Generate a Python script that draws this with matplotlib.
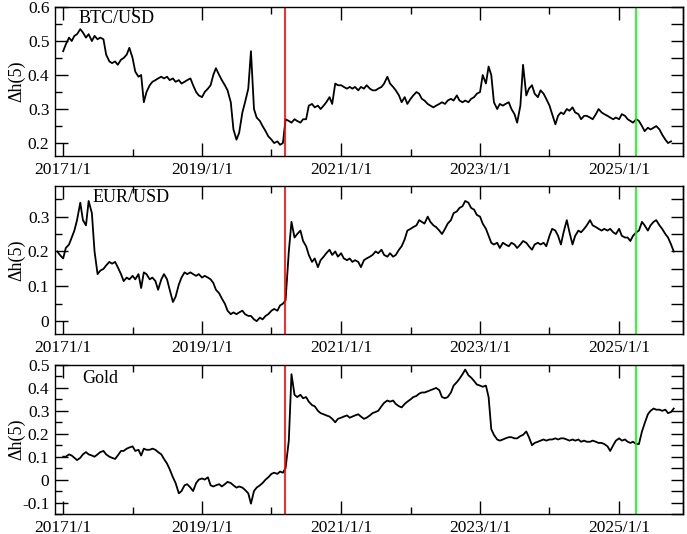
import matplotlib
matplotlib.use("Agg")
import matplotlib.pyplot as plt
from matplotlib.ticker import MultipleLocator, NullFormatter, FuncFormatter
import numpy as np
import pandas as pd

plt.rcParams['font.family'] = ['Liberation Serif', 'DejaVu Serif']
plt.rcParams['axes.unicode_minus'] = False

# semi-monthly readings (1st and 16th of each month)
btc_start = "2017-01-01"
btc = [
    0.47, 0.49, 0.51, 0.50, 0.515, 0.52, 0.535, 0.525, 0.51, 0.52, 0.50, 0.515,
    0.505, 0.51, 0.505, 0.46, 0.44, 0.435, 0.44, 0.43, 0.445, 0.45, 0.46, 0.48,
    0.45, 0.41, 0.395, 0.40, 0.32, 0.35, 0.37, 0.38, 0.385, 0.39, 0.395, 0.39,
    0.395, 0.385, 0.39, 0.38, 0.385, 0.375, 0.38, 0.385, 0.39, 0.37, 0.35, 0.34,
    0.335, 0.35, 0.36, 0.37, 0.40, 0.42, 0.40, 0.385, 0.37, 0.355, 0.32, 0.24,
    0.21, 0.23, 0.29, 0.32, 0.36, 0.47, 0.30, 0.275, 0.265, 0.25, 0.235, 0.22,
    0.21, 0.20, 0.205, 0.195, 0.20, 0.27, 0.265, 0.26, 0.27, 0.265, 0.26, 0.27,
    0.27, 0.31, 0.315, 0.305, 0.31, 0.30, 0.31, 0.32, 0.335, 0.315, 0.375, 0.37,
    0.37, 0.365, 0.36, 0.365, 0.36, 0.365, 0.355, 0.365, 0.36, 0.37, 0.36, 0.355,
    0.355, 0.36, 0.365, 0.375, 0.395, 0.375, 0.365, 0.355, 0.34, 0.32, 0.335, 0.315,
    0.33, 0.34, 0.35, 0.345, 0.33, 0.325, 0.315, 0.31, 0.305, 0.31, 0.315, 0.32,
    0.315, 0.325, 0.33, 0.325, 0.34, 0.325, 0.32, 0.325, 0.32, 0.33, 0.335, 0.345,
    0.35, 0.40, 0.375, 0.425, 0.40, 0.32, 0.30, 0.315, 0.31, 0.315, 0.32, 0.30,
    0.285, 0.26, 0.31, 0.43, 0.34, 0.36, 0.37, 0.345, 0.335, 0.355, 0.345, 0.33,
    0.31, 0.285, 0.255, 0.28, 0.29, 0.285, 0.30, 0.295, 0.305, 0.29, 0.285, 0.27,
    0.28, 0.28, 0.275, 0.27, 0.285, 0.30, 0.29, 0.285, 0.28, 0.275, 0.27, 0.275,
    0.27, 0.285, 0.28, 0.27, 0.265, 0.26, 0.27, 0.265, 0.25, 0.235, 0.245, 0.24,
    0.245, 0.25, 0.24, 0.225, 0.21, 0.20, 0.205,
]

eur_start = "2016-11-16"
eur = [
    0.20, 0.19, 0.18,
    0.21, 0.22, 0.24, 0.26, 0.29, 0.34, 0.29, 0.275, 0.345, 0.31, 0.20, 0.135,
    0.145, 0.15, 0.16, 0.17, 0.165, 0.17, 0.155, 0.135, 0.115, 0.125, 0.12, 0.13,
    0.12, 0.135, 0.095, 0.14, 0.135, 0.12, 0.125, 0.115, 0.09, 0.12, 0.135, 0.12,
    0.09, 0.055, 0.07, 0.105, 0.125, 0.14, 0.135, 0.14, 0.135, 0.13, 0.135, 0.125,
    0.13, 0.125, 0.12, 0.11, 0.09, 0.08, 0.065, 0.05, 0.03, 0.02, 0.025, 0.02,
    0.025, 0.03, 0.02, 0.015, 0.015, 0.005, 0.0, 0.01, 0.005, 0.015, 0.02, 0.03,
    0.035, 0.03, 0.045, 0.05, 0.06, 0.20, 0.285, 0.24, 0.25, 0.26, 0.23, 0.215,
    0.19, 0.17, 0.18, 0.155, 0.175, 0.185, 0.195, 0.205, 0.19, 0.20, 0.185, 0.195,
    0.18, 0.175, 0.18, 0.17, 0.175, 0.17, 0.155, 0.175, 0.18, 0.185, 0.19, 0.20,
    0.195, 0.205, 0.19, 0.185, 0.195, 0.185, 0.19, 0.205, 0.215, 0.235, 0.26, 0.265,
    0.27, 0.275, 0.29, 0.285, 0.28, 0.30, 0.285, 0.275, 0.27, 0.26, 0.25, 0.265,
    0.28, 0.29, 0.31, 0.315, 0.325, 0.33, 0.345, 0.34, 0.325, 0.32, 0.305, 0.30,
    0.28, 0.265, 0.245, 0.225, 0.22, 0.225, 0.21, 0.225, 0.22, 0.215, 0.225, 0.22,
    0.21, 0.22, 0.23, 0.225, 0.215, 0.205, 0.22, 0.225, 0.22, 0.225, 0.215, 0.245,
    0.265, 0.26, 0.245, 0.22, 0.255, 0.29, 0.255, 0.22, 0.245, 0.26, 0.255, 0.265,
    0.275, 0.29, 0.275, 0.27, 0.265, 0.26, 0.265, 0.26, 0.265, 0.255, 0.25, 0.265,
    0.245, 0.24, 0.24, 0.23, 0.245, 0.255, 0.26, 0.285, 0.275, 0.26, 0.275, 0.285,
    0.29, 0.275, 0.265, 0.25, 0.24, 0.22, 0.20,
]

gold_start = "2016-12-16"
gold = [
    0.10,
    0.10, 0.11, 0.105, 0.095, 0.085, 0.095, 0.11, 0.12, 0.11, 0.105, 0.10, 0.11,
    0.12, 0.125, 0.11, 0.10, 0.095, 0.09, 0.105, 0.125, 0.125, 0.135, 0.14, 0.145,
    0.125, 0.13, 0.105, 0.135, 0.13, 0.13, 0.135, 0.13, 0.12, 0.11, 0.09, 0.07,
    0.045, 0.01, -0.015, -0.06, -0.05, -0.025, -0.02, -0.035, -0.05, -0.015, 0.0, 0.005,
    0.0, 0.01, -0.025, -0.03, -0.025, -0.02, -0.03, -0.02, -0.01, -0.015, -0.025, -0.035,
    -0.03, -0.035, -0.045, -0.06, -0.105, -0.05, -0.035, -0.025, -0.015, 0.0, 0.01, 0.025,
    0.03, 0.025, 0.035, 0.03, 0.05, 0.17, 0.46, 0.37, 0.36, 0.37, 0.355, 0.36,
    0.34, 0.325, 0.32, 0.30, 0.29, 0.285, 0.28, 0.275, 0.265, 0.25, 0.265, 0.27,
    0.275, 0.28, 0.27, 0.275, 0.28, 0.285, 0.275, 0.265, 0.27, 0.28, 0.29, 0.295,
    0.30, 0.32, 0.335, 0.345, 0.34, 0.345, 0.33, 0.32, 0.315, 0.33, 0.34, 0.35,
    0.36, 0.365, 0.375, 0.38, 0.38, 0.385, 0.39, 0.395, 0.40, 0.39, 0.36, 0.355,
    0.36, 0.38, 0.41, 0.425, 0.44, 0.46, 0.48, 0.455, 0.445, 0.43, 0.415, 0.41,
    0.405, 0.41, 0.36, 0.22, 0.195, 0.175, 0.17, 0.175, 0.18, 0.185, 0.185, 0.18,
    0.18, 0.19, 0.195, 0.21, 0.185, 0.15, 0.16, 0.165, 0.17, 0.175, 0.17, 0.175,
    0.175, 0.18, 0.175, 0.18, 0.18, 0.175, 0.17, 0.175, 0.17, 0.175, 0.165, 0.17,
    0.165, 0.165, 0.17, 0.165, 0.16, 0.16, 0.155, 0.145, 0.125, 0.15, 0.17, 0.18,
    0.17, 0.175, 0.165, 0.16, 0.165, 0.155, 0.155, 0.21, 0.245, 0.285, 0.30, 0.31,
    0.305, 0.305, 0.30, 0.305, 0.29, 0.295, 0.31,
]

names = ["BTC/USD", "EUR/USD", "Gold"]
starts = [btc_start, eur_start, gold_start]
series = [btc, eur, gold]

event_dates = ["2020-03-11", "2025-04-02"]
event_colors = ["#ff0000", "#00ff00"]

major_dates = ["2017-01-01", "2019-01-01", "2021-01-01", "2023-01-01", "2025-01-01"]
major_labels = ["20171/1", "2019/1/1", "2021/1/1", "2023/1/1", "2025/1/1"]
minor_dates = ["2018-01-01", "2020-01-01", "2022-01-01", "2024-01-01"]

ylims = [(0.162, 0.6), (-0.037, 0.388), (-0.15, 0.5)]
ypos = [(0.7079, 0.279), (0.3745, 0.2772), (0.0375, 0.279)]
label_xy = [(0.037, 0.926), (0.06, 0.922), (0.043, 0.906)]

fig = plt.figure(figsize=(6.87, 5.34), dpi=100)

for k in range(3):
    ax = fig.add_axes([0.080, ypos[k][0], 0.914, ypos[k][1]])
    dates = pd.date_range(starts[k], periods=len(series[k]), freq="SMS")
    ax.plot(dates, series[k], color="black", lw=1.3)
    for d, c in zip(event_dates, event_colors):
        ax.axvline(pd.Timestamp(d), color=c, lw=1.2)

    ax.set_xlim(pd.Timestamp("2016-11-19"), pd.Timestamp("2025-12-02"))
    ax.set_ylim(*ylims[k])
    ax.set_xticks([pd.Timestamp(d) for d in major_dates])
    ax.set_xticklabels(major_labels)
    ax.set_xticks([pd.Timestamp(d) for d in minor_dates], minor=True)
    ax.yaxis.set_major_locator(MultipleLocator(0.1))
    ax.yaxis.set_minor_locator(MultipleLocator(0.05))
    ax.yaxis.set_major_formatter(FuncFormatter(lambda v, p: "%g" % round(v, 2)))
    ax.tick_params(which="both", direction="in", top=True, right=False,
                   labelsize=12.5, width=1.0, pad=4)
    ax.tick_params(which="major", length=9.5)
    ax.tick_params(which="minor", length=5)
    for s in ax.spines.values():
        s.set_linewidth(1.0)

    sec = ax.secondary_yaxis("right")
    sec.yaxis.set_major_locator(MultipleLocator(0.05))
    sec.yaxis.set_major_formatter(NullFormatter())
    sec.tick_params(direction="in", length=9, width=1.0)
    sec.spines["right"].set_linewidth(1.0)

    ax.set_ylabel("\u0394h(5)", fontsize=13)
    ax.yaxis.set_label_coords(-0.047, 0.5)
    ax.text(label_xy[k][0], label_xy[k][1], names[k], transform=ax.transAxes,
            fontsize=13, ha="left", va="center")

fig.savefig("out.png", dpi=100)
